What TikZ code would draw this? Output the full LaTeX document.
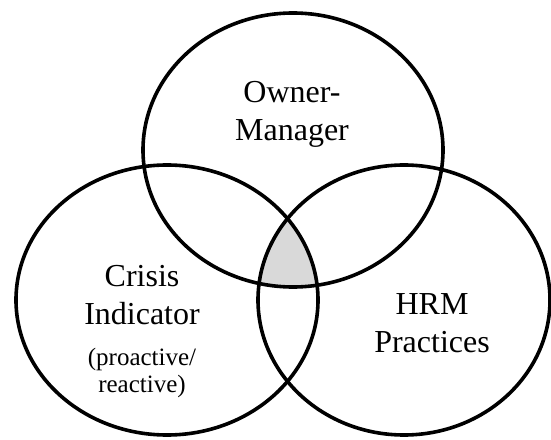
\documentclass[tikz,border=0pt]{standalone}
\usepackage{fontspec}
\setmainfont{Liberation Serif}
\usepackage{xcolor}
\usepackage{tikz}
\usetikzlibrary{positioning}
\definecolor{overlapgray}{HTML}{D9D9D9}
\tikzset{
  setline/.style={draw=black, line width=3.6pt},
  overlap/.style={fill=overlapgray},
  lbl/.style={font=\fontsize{32}{38}\selectfont, align=center, inner sep=0pt, anchor=north},
  note/.style={font=\fontsize{25}{27}\selectfont, align=center, inner sep=0pt, anchor=north},
}

\begin{document}
\begin{tikzpicture}[x=1pt, y=1pt]
  \useasboundingbox (0,0) rectangle (551,439);

  % centres of the three sets
  \coordinate (cowner) at (293,289);
  \coordinate (ccrisis) at (167,139);
  \coordinate (chrm) at (404,139);

  % shared part of all three sets
  \begin{scope}
    \clip (cowner) ellipse [x radius=150pt, y radius=137pt];
    \clip (ccrisis) ellipse [x radius=151pt, y radius=135pt];
    \fill[overlap] (chrm) ellipse [x radius=146pt, y radius=135pt];
  \end{scope}

  % outlines
  \draw[setline] (cowner) ellipse [x radius=150pt, y radius=137pt];
  \draw[setline] (ccrisis) ellipse [x radius=151pt, y radius=135pt];
  \draw[setline] (chrm) ellipse [x radius=146pt, y radius=135pt];

  % labels
  \node[lbl] (owner) at (292,358) {Owner-\\Manager};
  \node[lbl] (crisis) at (142,174) {Crisis\\Indicator};
  \node[note, below=23pt of crisis] (crisisnote) {(proactive/\\reactive)};
  \node[lbl] (hrm) at (432,146) {HRM\\Practices};
\end{tikzpicture}
\end{document}
